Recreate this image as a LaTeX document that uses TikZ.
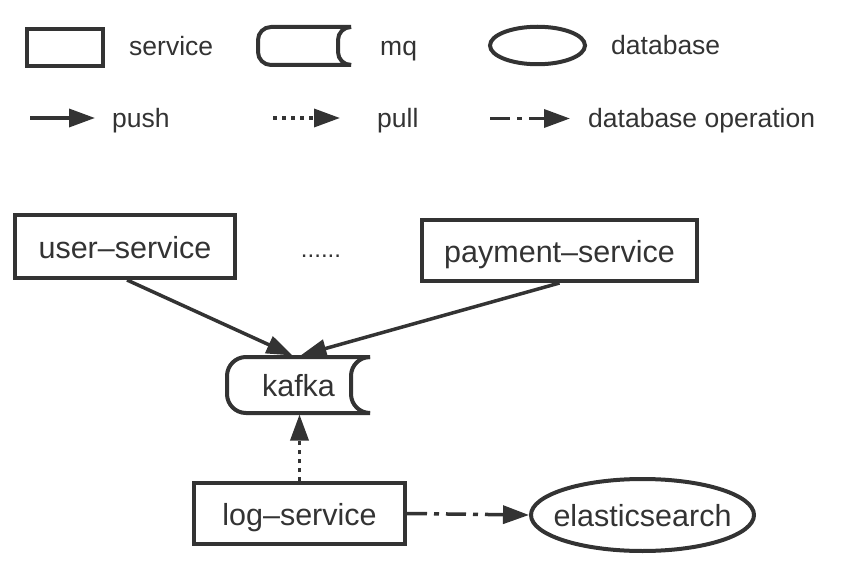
\documentclass[tikz,border=0pt]{standalone}
\usepackage{fontspec}
\setmainfont{Liberation Sans}
\usetikzlibrary{arrows.meta,shapes.geometric}
\definecolor{ink}{HTML}{333333}
% side-open message queue outline around a node
\newcommand{\mqdraw}[2]{%
\draw [mqline,rounded corners=#2] (#1.north east) -- (#1.north west) -- (#1.south west) -- (#1.south east);
\draw [mqline,rounded corners=#2] (#1.north east) -- ([xshift=-#2]#1.north east) -- ([xshift=-#2]#1.south east) -- (#1.south east);}

\begin{document}
\begin{tikzpicture}[x=1pt,y=-1pt,
  every node/.style={text=ink,inner sep=0pt},
  svc/.style={draw=ink,line width=4pt,rectangle},
  mq/.style={rectangle,outer sep=0pt},
  mqline/.style={draw=ink,line width=4pt},
  db/.style={draw=ink,line width=4pt,ellipse,inner xsep=-16pt},
  big/.style={font=\fontsize{30.5}{36}\selectfont,text height=23pt,text depth=0pt},
  small/.style={font=\fontsize{26.5}{32}\selectfont,anchor=base west},
  push/.style={draw=ink,line width=3.5pt,-{Triangle[length=26pt,width=18pt]}},
  pull/.style={push,dash pattern=on 4pt off 5pt},
  dbop/.style={push,dash pattern=on 20pt off 7pt on 5pt off 7pt}]
\useasboundingbox (0,0) rectangle (844,586);
% legend
\node [svc,minimum width=76.5pt,minimum height=37.5pt] (lsvc) at (65,47.5) {};
\node [small] (lsvctext) at (129,56) {service};
\node [mq,minimum width=93pt,minimum height=38pt] (lmq) at (304.5,46) {};
\mqdraw{lmq}{13pt}
\node [small] (lmqtext) at (380,56) {mq};
\node [db,minimum width=95pt,minimum height=37.5pt] (ldb) at (537.5,45.5) {};
\node [small] (ldbtext) at (611,55) {database};
\coordinate (lpusha) at (30,118);
\coordinate (lpushb) at (95,118);
\draw [push] (lpusha) -- (lpushb);
\node [small] (lpushtext) at (112,128) {push};
\coordinate (lpulla) at (273,118);
\coordinate (lpullb) at (340,118);
\draw [pull] (lpulla) -- (lpullb);
\node [small] (lpulltext) at (377,128) {pull};
\coordinate (ldbopa) at (490,118.5);
\coordinate (ldbopb) at (570,118.5);
\draw [dbop] (ldbopa) -- (ldbopb);
\node [small] (ldboptext) at (588,128) {database operation};
% services
\node [svc,big,minimum width=220pt,minimum height=63pt] (user) at (125,246.5) {user–service};
\node [font=\fontsize{24}{28}\selectfont,anchor=base] (more) at (321,257) {......};
\node [svc,big,minimum width=275pt,minimum height=61pt] (pay) at (559.5,250.5) {payment–service};
% kafka
\node [mq,big,minimum width=143pt,minimum height=56pt] (kafka) at (298.5,385) {kafka};
\mqdraw{kafka}{19pt}
\node [svc,big,minimum width=211pt,minimum height=61pt] (log) at (299.5,513.5) {log–service};
\node [db,big,minimum width=223pt,minimum height=72pt] (es) at (642.5,515) {elasticsearch};
% connectors
\draw [push] ([xshift=2pt]user.south) -- ([xshift=-6pt,yshift=1.5pt]kafka.north);
\draw [push] (pay.south) -- ([xshift=2pt,yshift=1.5pt]kafka.north);
\draw [pull] (log.north) -- ([yshift=-1.5pt]log.north |- kafka.south);
\draw [dbop] (log.east) -- (es.west);
\end{tikzpicture}
\end{document}
